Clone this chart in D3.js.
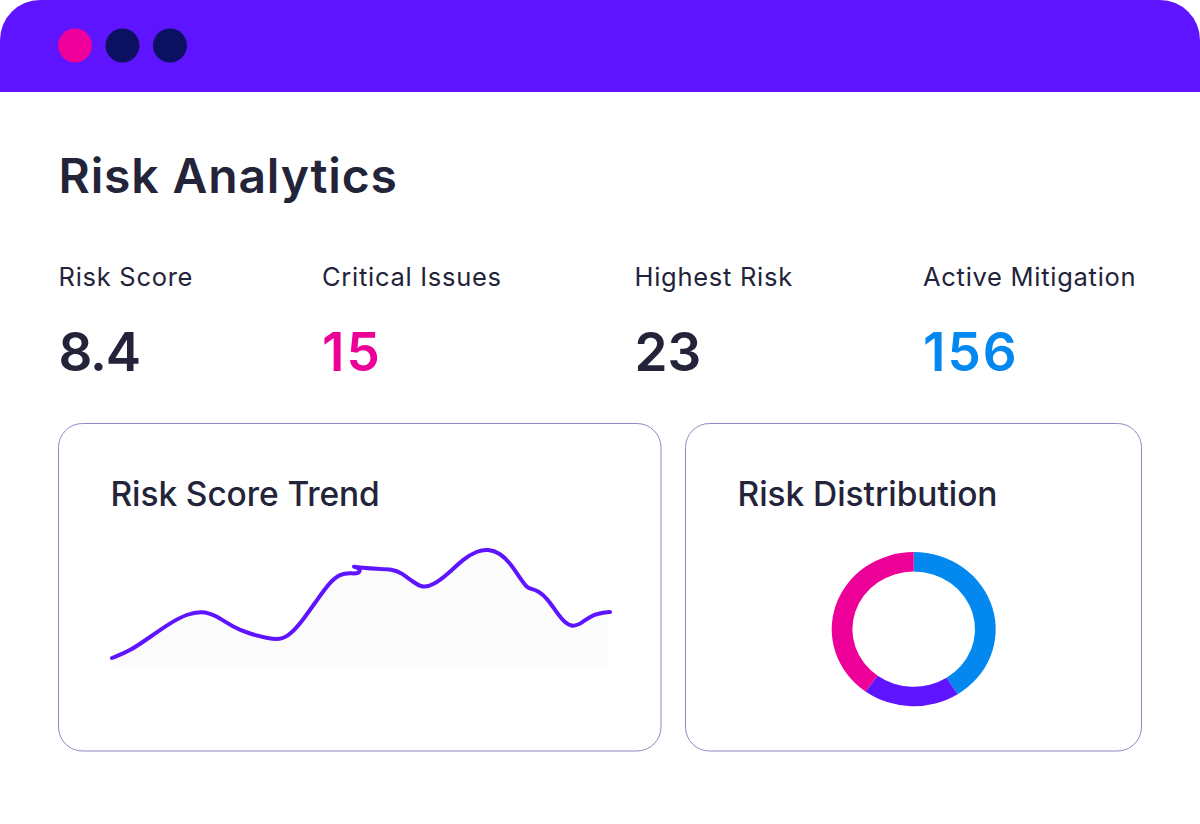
<!DOCTYPE html>
<html><head><meta charset="utf-8">
<script src="https://cdn.jsdelivr.net/npm/d3@7"></script>
<style>html,body{margin:0;padding:0;background:#fff}svg{display:block}text{font-family:Inter,sans-serif}</style>
</head><body><svg id="c" width="1200" height="824"></svg>
<script>
const dotColors = ["#f0009a", "#0b1060", "#0b1060"];
const kpiLabels = ["Risk Score", "Critical Issues", "Highest Risk", "Active Mitigation"];
const kpiValues = ["8.4", "15", "23", "156"];
const kpiColors = ["#23233a", "#ec0098", "#23233a", "#0388f0"];
const trendX = [0,18,38,58,75,90,103,121,138,155,168,178,191,205,218,228,238,247,249,238,251,265,280,290,301,311,321,335,351,365,376,388,398,408,415,420,426,435,445,453,461,470,481,498];
const trendY = [10,17,31,45,54,57,53,41,34,30,28,33,48,68,86,94,95,94,100,102,100,99,99,95,86,80,83,93,109,117,119,115,105,90,80,79,77,70,55,45,41,45,54,56];
const pieLabels = ["Blue", "Purple", "Pink"];
const pieValues = [41, 19, 40];
const pieColors = ["#0388f0", "#5f14ff", "#ec0098"];

const svg = d3.select("#c");
const ink = "#23233a";
svg.append("path").attr("fill", "#5f14ff")
  .attr("d", "M0,92V40A40,40 0 0 1 40,0H1160A40,40 0 0 1 1200,40V92Z");
svg.selectAll(".dot").data(dotColors).join("circle").attr("class", "dot")
  .attr("cx", (d, i) => 75 + i * 47.5).attr("cy", 45.5).attr("r", 17).attr("fill", d => d);
svg.append("text").attr("x", 58.5).attr("y", 193).attr("font-size", 48).attr("font-weight", 600)
  .attr("letter-spacing", 0.85).attr("fill", ink).text("Risk Analytics");

const kpiX = [58.5, 322, 634.5, 923];
svg.selectAll(".kl").data(kpiLabels).join("text").attr("class", "kl")
  .attr("x", (d, i) => kpiX[i]).attr("y", 286).attr("font-size", 25.5).attr("font-weight", 400)
  .attr("letter-spacing", 0.72).attr("fill", ink).text(d => d);
svg.selectAll(".kv").data(kpiValues).join("text").attr("class", "kv")
  .attr("x", (d, i) => kpiX[i]).attr("y", 371).attr("font-size", 53).attr("font-weight", 600)
  .attr("letter-spacing", d => d[0] === "1" ? 2 : d.includes(".") ? -1.2 : 0)
  .attr("fill", (d, i) => kpiColors[i]).text(d => d);

[[58.5, 602.5], [685.5, 456]].forEach(([x, w]) =>
  svg.append("rect").attr("x", x).attr("y", 423.5).attr("width", w).attr("height", 327.5)
    .attr("rx", 24).attr("fill", "#fff").attr("stroke", "#8f88c4").attr("stroke-width", 1));
svg.append("text").attr("x", 110.5).attr("y", 506).attr("font-size", 33.5).attr("font-weight", 450).attr("letter-spacing", -0.1).attr("fill", ink).text("Risk Score Trend");
svg.append("text").attr("x", 737.5).attr("y", 506).attr("font-size", 33.5).attr("font-weight", 450).attr("letter-spacing", -0.05).attr("fill", ink).text("Risk Distribution");

const x = d3.scaleLinear().domain([0, 498]).range([112, 610]);
const y = d3.scaleLinear().domain([0, 120]).range([668, 548]);
const pts = trendX.map((d, i) => [d, trendY[i]]);
const curve = d3.curveBasis;
svg.append("clipPath").attr("id", "ac").append("rect").attr("x", 111).attr("y", 500).attr("width", 497).attr("height", 167);
svg.append("path").attr("clip-path", "url(#ac)").attr("fill", "#fbfbfb")
  .attr("d", d3.area().x(d => x(d[0])).y0(y(0)).y1(d => y(d[1])).curve(curve)(pts));
svg.append("path").attr("fill", "none").attr("stroke", "#5f14ff").attr("stroke-width", 4).attr("stroke-linecap", "round")
  .attr("d", d3.line().x(d => x(d[0])).y(d => y(d[1])).curve(curve)(pts));

const pie = d3.pie().sort(null)(pieValues);
const arc = d3.arc().innerRadius(61.3).outerRadius(82);
svg.append("g").attr("transform", "translate(913.7,629.2) scale(1,0.94)")
  .selectAll("path").data(pie).join("path").attr("d", arc).attr("fill", (d, i) => pieColors[i]);
</script></body></html>
